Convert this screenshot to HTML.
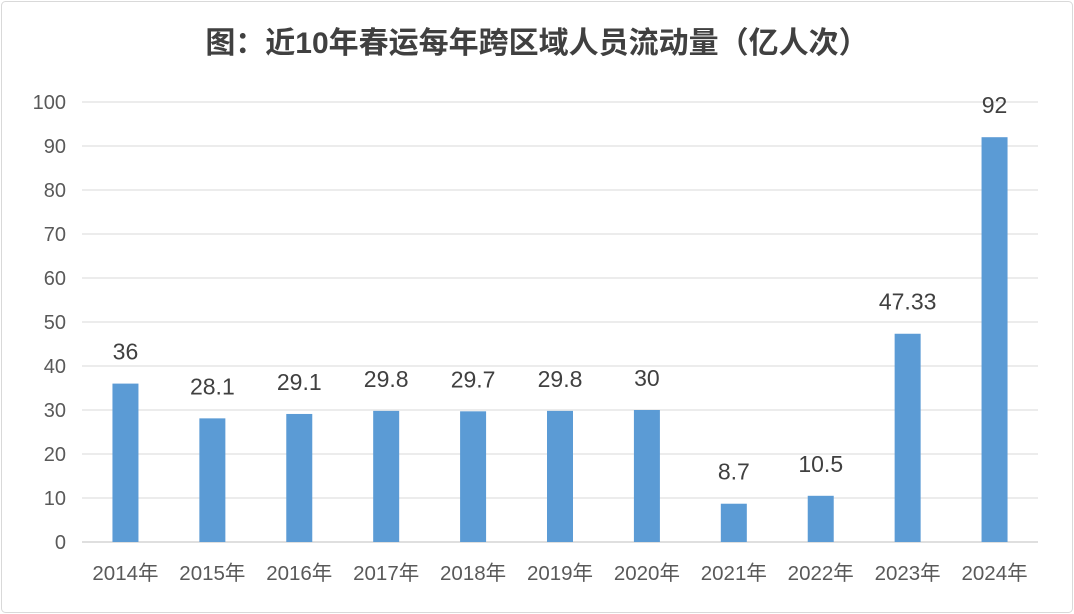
<!DOCTYPE html>
<html><head><meta charset="utf-8"><style>
body{margin:0;background:#fff;}
svg{display:block;font-family:"Liberation Sans","Noto Sans CJK SC",sans-serif;}
</style></head><body>
<svg id="c" width="1074" height="614">
<rect x="1.5" y="1.5" width="1071" height="611" rx="4" fill="#fff" stroke="#d9d9d9"/>
<text x="537" y="53" text-anchor="middle" font-size="30" font-weight="bold" fill="#404040">图：近10年春运每年跨区域人员流动量（亿人次）</text>
<g id="grid"></g><g id="bars"></g>
</svg>
<script>
const categories=["2014年","2015年","2016年","2017年","2018年","2019年","2020年","2021年","2022年","2023年","2024年"];
const values=[36,28.1,29.1,29.8,29.7,29.8,30,8.7,10.5,47.33,92];
const valueLabels=["36","28.1","29.1","29.8","29.7","29.8","30","8.7","10.5","47.33","92"];
const yTicks=[0,10,20,30,40,50,60,70,80,90,100];
const NS="http://www.w3.org/2000/svg";
const x0=82,x1=1038,yB=542,yT=102,yMax=100;
const y=v=>yB-(v/yMax)*(yB-yT);
const band=(x1-x0)/categories.length;
const xc=i=>x0+band*(i+0.5);
const g=document.getElementById('grid'),b=document.getElementById('bars');
function mk(t,a,p){const e=document.createElementNS(NS,t);for(const k in a)e.setAttribute(k,a[k]);p.appendChild(e);return e;}
yTicks.forEach(t=>{
 const l=mk('line',{x1:x0,x2:x1,y1:y(t),y2:y(t),stroke:t===0?'#bfbfbf':'#d9d9d9','stroke-width':1},g);
 
 
 const tx=mk('text',{x:66,y:y(t)+7,'text-anchor':'end','font-size':20,fill:'#595959'},g);
 tx.textContent=t;
 
 
});
categories.forEach((c,i)=>{
 const r=mk('rect',{x:xc(i)-13,y:y(values[i]),width:26,height:yB-y(values[i]),fill:'#5b9bd5'},b);
 
 
 const v=mk('text',{x:xc(i),y:y(values[i])-24,'text-anchor':'middle','font-size':23,fill:'#404040'},b);
 v.textContent=valueLabels[i];
 
 
 const t=mk('text',{x:xc(i),y:580,'text-anchor':'middle','font-size':20.5,fill:'#595959'},b);
 t.textContent=c;
 
 
});
</script>
</body></html>
